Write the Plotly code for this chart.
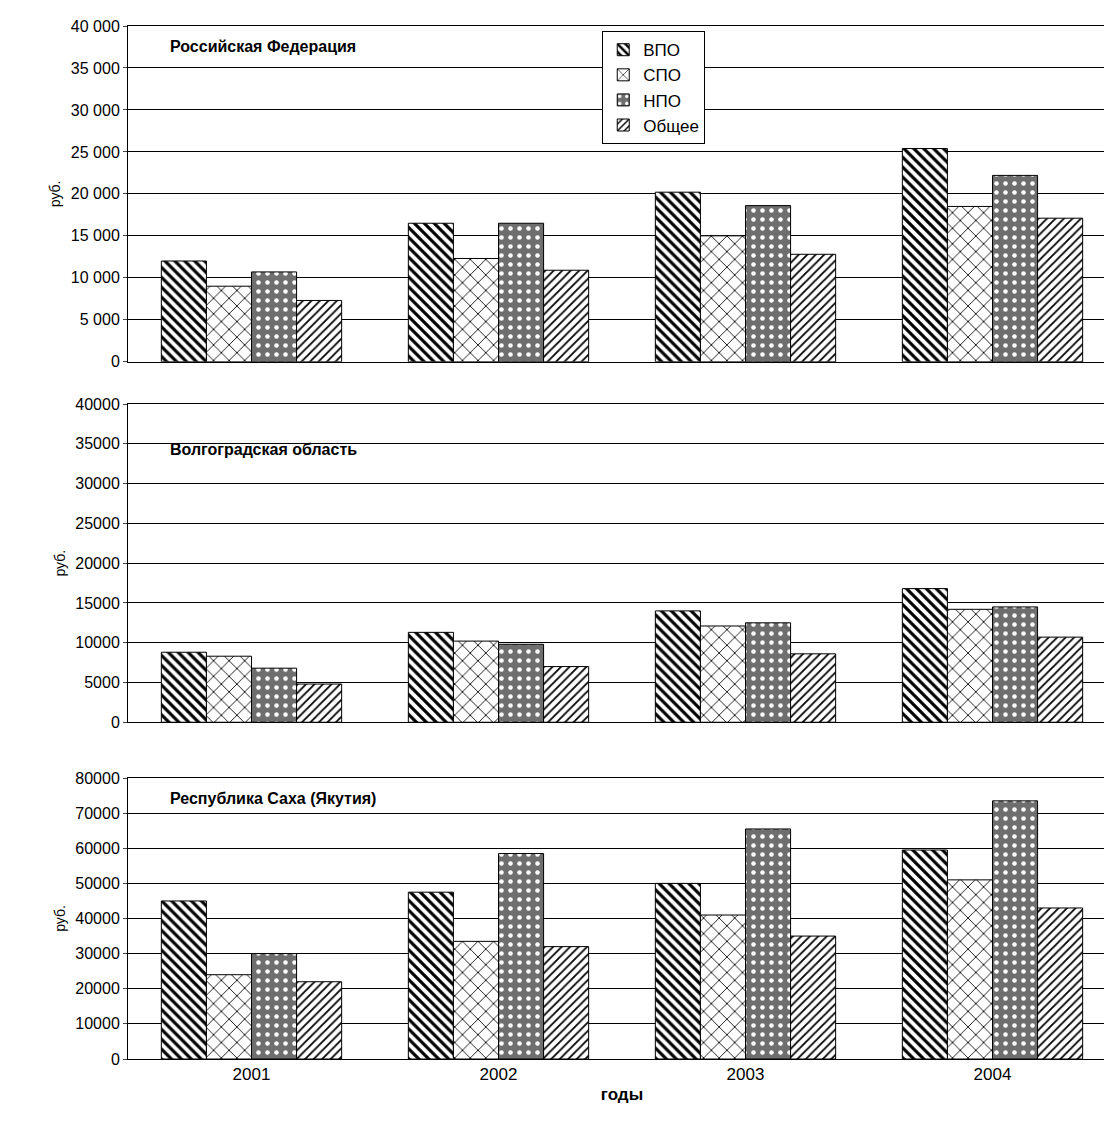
import plotly.graph_objects as go
from plotly.subplots import make_subplots

years = ["2001", "2002", "2003", "2004"]
series = ["ВПО", "СПО", "НПО", "Общее"]

# руб.
rf = {
    "ВПО": [12000, 16500, 20200, 25400],
    "СПО": [9000, 12300, 15000, 18500],
    "НПО": [10700, 16500, 18600, 22200],
    "Общее": [7300, 10900, 12800, 17100],
}
volg = {
    "ВПО": [8800, 11300, 14000, 16800],
    "СПО": [8300, 10200, 12100, 14200],
    "НПО": [6800, 9800, 12500, 14500],
    "Общее": [4800, 7000, 8600, 10700],
}
yak = {
    "ВПО": [45000, 47500, 50000, 59500],
    "СПО": [24000, 33500, 41000, 51000],
    "НПО": [30000, 58500, 65500, 73500],
    "Общее": [22000, 32000, 35000, 43000],
}
panels = [("Российская Федерация", rf), ("Волгоградская область", volg), ("Республика Саха (Якутия)", yak)]

styles = {
    "ВПО": dict(shape="\\", fgcolor="black", bgcolor="white", size=7, solidity=0.45),
    "СПО": dict(shape="x", fgcolor="black", bgcolor="white", size=11, solidity=0.15),
    "НПО": dict(shape=".", fgcolor="white", bgcolor="#6e6e6e", size=9, solidity=0.2),
    "Общее": dict(shape="/", fgcolor="black", bgcolor="white", size=6, solidity=0.3),
}

fig = make_subplots(rows=3, cols=1, vertical_spacing=0.05)
for i, (title, data) in enumerate(panels, start=1):
    for s in series:
        fig.add_trace(go.Bar(
            x=years, y=data[s], name=s, showlegend=(i == 1),
            marker=dict(color=styles[s]["bgcolor"], pattern=dict(fillmode="replace", **styles[s]),
                        line=dict(color="black", width=1)),
        ), row=i, col=1)

font = dict(family="Liberation Sans, Arial", size=15, color="black")
fig.update_layout(
    width=1112, height=1126, template="none", barmode="group", bargap=0.27, bargroupgap=0,
    margin=dict(l=120, r=4, t=18, b=75), font=font, plot_bgcolor="white",
    legend=dict(x=0.48, y=0.995, xanchor="left", yanchor="top", bordercolor="black", borderwidth=1,
                bgcolor="white", font=dict(size=17), tracegroupgap=8, itemwidth=30),
)
domains = [[0.675, 1.0], [0.326, 0.634], [0.0, 0.272]]
ranges = [[0, 40000], [0, 40000], [0, 80000]]
dticks = [5000, 5000, 10000]
for i in range(3):
    yref = "yaxis" if i == 0 else f"yaxis{i+1}"
    xref = "xaxis" if i == 0 else f"xaxis{i+1}"
    yax = dict(domain=domains[i], range=ranges[i], dtick=dticks[i], showgrid=True, gridcolor="black",
               gridwidth=1, showline=True, linecolor="black", ticks="outside", ticklen=4,
               tickformat="d", tickfont=dict(size=16), mirror=True,
               title=dict(text="руб.", font=dict(size=14), standoff=6), zeroline=False)
    if i == 0:
        vals = list(range(0, 40001, 5000))
        yax["tickvals"] = vals
        yax["ticktext"] = [f"{v:,}".replace(",", " ") for v in vals]
    fig.layout[yref].update(yax)
    fig.layout[xref].update(dict(showline=True, linecolor="black", mirror=True, showgrid=False,
                                 showticklabels=(i == 2), ticks="", tickfont=dict(size=17)))
fig.update_layout(xaxis3=dict(title=dict(text="<b>годы</b>", font=dict(size=17), standoff=4)))

ann_y = [0.99, 0.60, 0.262]
for (title, _), y in zip(panels, ann_y):
    fig.add_annotation(text=f"<b>{title}</b>", xref="paper", yref="paper", x=0.04,
                       y=y, xanchor="left", yanchor="top", showarrow=False, font=dict(size=16))

fig.write_html("out.html")
